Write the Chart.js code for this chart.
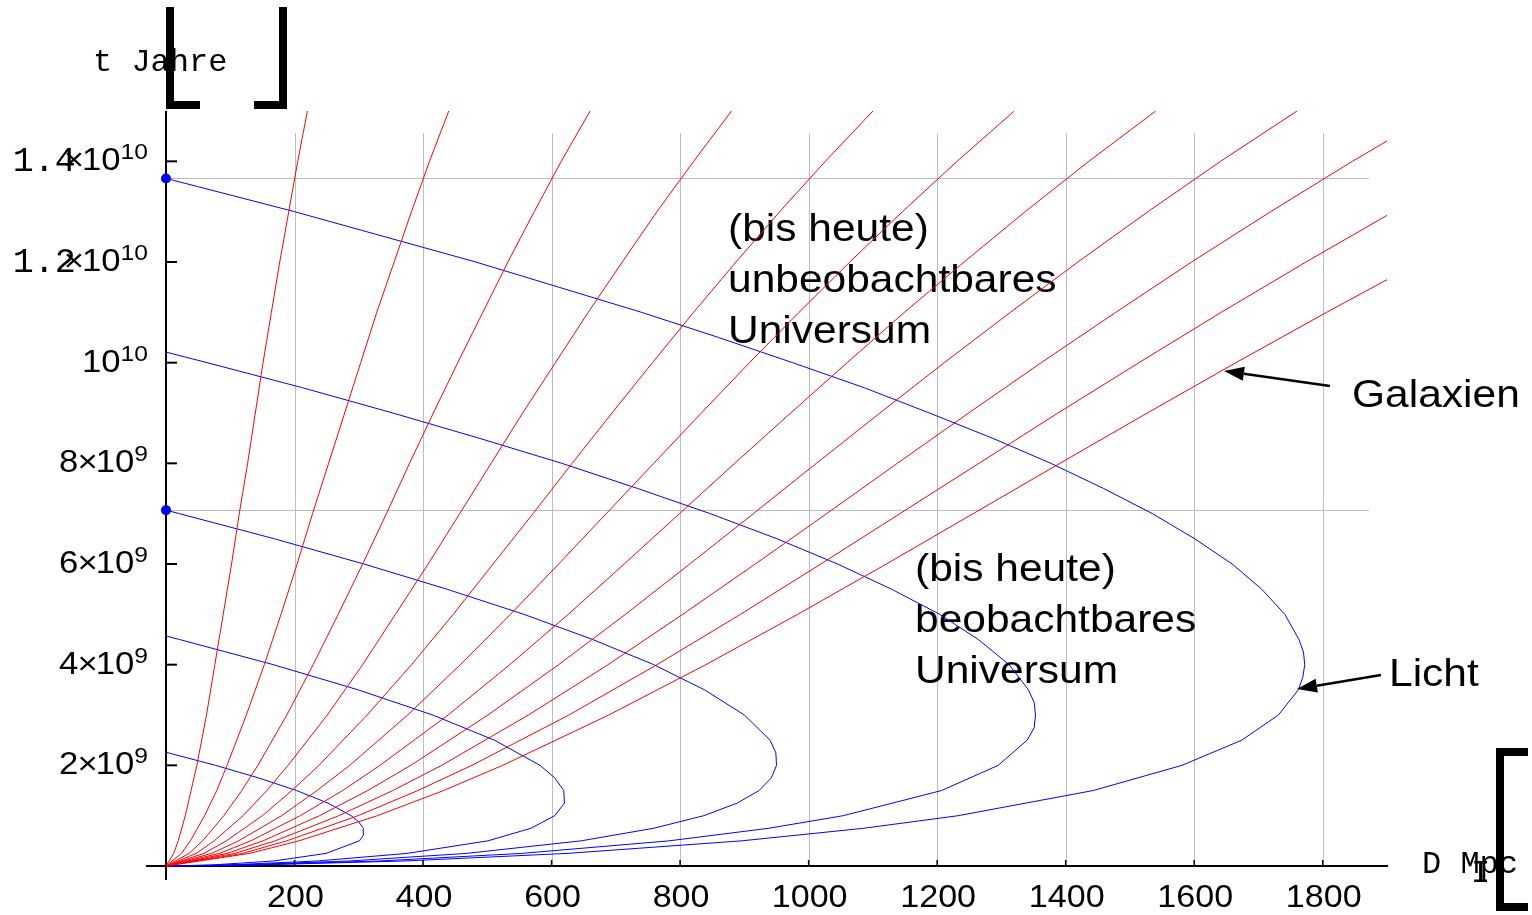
<!DOCTYPE html>
<html>
<head>
<meta charset="utf-8">
<script src="https://cdn.jsdelivr.net/npm/chart.js@4.4.1/dist/chart.umd.min.js"></script>
<style>
  html, body { margin: 0; padding: 0; background: #fff; }
  canvas { display: block; }
</style>
</head>
<body>
<canvas id="myChart" width="1532" height="915"></canvas>
<script>
// time in 10^9 years, distance D in Mpc

// galaxy world lines, all sampled at the same times
const galaxyTimes = [0, 0.25, 0.5, 1, 1.5, 2, 3, 4, 5, 6, 7, 8, 9, 10, 11, 12, 13, 14, 15];
const galaxy1  = [0, 12, 19, 30, 39, 48, 63, 76, 89, 102, 114, 127, 139, 151, 164, 177, 191, 205, 220];
const galaxy2  = [0, 24, 38, 60, 79, 95, 125, 153, 179, 204, 228, 253, 278, 303, 328, 355, 382, 410, 440];
const galaxy3  = [0, 36, 57, 90, 118, 143, 188, 229, 268, 306, 343, 379, 416, 454, 493, 532, 573, 615, 660];
const galaxy4  = [0, 47, 75, 120, 157, 190, 251, 306, 357, 408, 457, 506, 555, 606, 657, 710, 764, 821, 880];
const galaxy5  = [0, 59, 94, 150, 196, 238, 313, 382, 447, 509, 571, 632, 694, 757, 821, 887, 955, 1026, 1100];
const galaxy6  = [0, 71, 113, 180, 235, 286, 376, 458, 536, 611, 685, 759, 833, 908, 985, 1064, 1146, 1231, 1320];
const galaxy7  = [0, 83, 132, 209, 275, 333, 439, 535, 626, 713, 799, 885, 972, 1060, 1149, 1242, 1337, 1436, 1540];
const galaxy8  = [0, 95, 151, 239, 314, 381, 501, 611, 715, 815, 914, 1012, 1111, 1211, 1314, 1419, 1528, 1641, 1760];
const galaxy9  = [0, 107, 170, 269, 353, 429, 564, 688, 804, 917, 1028, 1138, 1249, 1362, 1478, 1596, 1719, 1846, 1980];
const galaxy10 = [0, 119, 188, 299, 392, 476, 627, 764, 894, 1019, 1142, 1265, 1388, 1514, 1642, 1774, 1910, 2051, 2200];
const galaxy11 = [0, 130, 207, 329, 432, 524, 689, 840, 983, 1121, 1256, 1391, 1527, 1665, 1806, 1951, 2101, 2257, 2420];

// light (past light cones), one per observer time
const light1Times = [0, 0.02, 0.1, 0.25, 0.5, 0.625, 0.75, 0.875, 1, 1.25, 1.5, 1.75, 2, 2.26];
const light1Dist  = [0, 71, 168, 249, 301, 308, 307, 300, 288, 252, 203, 144, 77, 0];
const light2Times = [0, 0.02, 0.1, 0.25, 0.5, 0.75, 1, 1.25, 1.5, 1.75, 2, 2.5, 3, 3.5, 4, 4.5, 4.57];
const light2Dist  = [0, 94, 236, 375, 501, 568, 605, 620, 619, 605, 582, 511, 415, 299, 167, 21, 0];
const light3Times = [0, 0.02, 0.1, 0.25, 0.5, 0.75, 1, 1.25, 1.5, 1.75, 2, 2.25, 2.5, 3, 3.5, 4, 4.5, 5, 5.5, 6, 6.5, 7, 7.07];
const light3Dist  = [0, 111, 286, 467, 646, 759, 837, 889, 923, 942, 950, 949, 940, 900, 838, 759, 664, 557, 437, 308, 169, 21, 0];
const light4Times = [0, 0.02, 0.1, 0.25, 0.5, 0.75, 1, 1.5, 2, 2.5, 2.75, 3, 3.25, 3.5, 4, 4.5, 5, 5.5, 6, 6.5, 7, 7.5, 8, 8.5, 9, 9.5, 10, 10.21];
const light4Dist  = [0, 127, 333, 553, 783, 938, 1054, 1207, 1295, 1340, 1351, 1353, 1351, 1342, 1312, 1264, 1204, 1129, 1045, 951, 847, 734, 616, 487, 353, 213, 64, 0];
const light5Times = [0, 0.02, 0.1, 0.25, 0.5, 0.75, 1, 1.5, 2, 2.5, 3, 3.5, 3.75, 4, 4.25, 4.5, 5, 5.5, 6, 6.5, 7, 7.5, 8, 8.5, 9, 9.5, 10, 10.5, 11, 11.5, 12, 12.5, 13, 13.5, 13.66];
const light5Dist  = [0, 140, 372, 624, 896, 1086, 1233, 1443, 1581, 1674, 1731, 1762, 1769, 1772, 1770, 1763, 1741, 1705, 1659, 1601, 1535, 1459, 1377, 1286, 1188, 1087, 975, 860, 740, 611, 482, 341, 200, 49, 0];

const markedTimes = [7.07, 13.66];   // blue dots on the t axis, also horizontal grid lines
const xTicks = [200, 400, 600, 800, 1000, 1200, 1400, 1600, 1800];
const yTicks = [2, 4, 6, 8, 10, 12, 14];
const yTickMantissa = ['2', '4', '6', '8', '', '1.2', '1.4'];
const yTickExponent = ['9', '9', '9', '9', '10', '10', '10'];
const gridTop = 14.56;
const gridRight = 1872;

const SANS = '"Liberation Sans", Arial, sans-serif';
const MONO = '"Liberation Mono", "Courier New", monospace';

function wideText(ctx, text, x, y, font, sx, align) {
    ctx.save();
    ctx.font = font;
    ctx.textAlign = 'left';
    ctx.textBaseline = 'alphabetic';
    const w = ctx.measureText(text).width * sx;
    let x0 = x;
    if (align === 'right') x0 = x - w;
    if (align === 'center') x0 = x - w / 2;
    ctx.translate(x0, y);
    ctx.scale(sx, 1);
    ctx.fillText(text, 0, 0);
    ctx.restore();
    return w;
}

function textWidth(ctx, text, font, sx) {
    ctx.save();
    ctx.font = font;
    const w = ctx.measureText(text).width * sx;
    ctx.restore();
    return w;
}

function arrow(ctx, x1, y1, x2, y2) {
    const a = Math.atan2(y2 - y1, x2 - x1);
    const len = 20, half = 7;
    const bx = x2 - len * Math.cos(a), by = y2 - len * Math.sin(a);
    ctx.beginPath();
    ctx.moveTo(x1, y1);
    ctx.lineTo(bx, by);
    ctx.lineWidth = 2.5;
    ctx.strokeStyle = '#000';
    ctx.stroke();
    ctx.beginPath();
    ctx.moveTo(x2, y2);
    ctx.lineTo(bx + half * Math.sin(a), by - half * Math.cos(a));
    ctx.lineTo(bx - half * Math.sin(a), by + half * Math.cos(a));
    ctx.closePath();
    ctx.fillStyle = '#000';
    ctx.fill();
}

const decorations = {
    id: 'decorations',
    beforeDatasetsDraw(chart) {
        const { ctx, scales: { x, y } } = chart;
        const x0 = x.getPixelForValue(0);
        const y0 = y.getPixelForValue(0);
        ctx.save();

        // grid
        ctx.strokeStyle = '#bdbdbd';
        ctx.lineWidth = 1;
        xTicks.forEach(v => {
            const px = Math.round(x.getPixelForValue(v)) + 0.5;
            ctx.beginPath();
            ctx.moveTo(px, y0);
            ctx.lineTo(px, y.getPixelForValue(gridTop));
            ctx.stroke();
        });
        markedTimes.forEach(v => {
            const py = Math.round(y.getPixelForValue(v)) + 0.5;
            ctx.beginPath();
            ctx.moveTo(x0, py);
            ctx.lineTo(x.getPixelForValue(gridRight), py);
            ctx.stroke();
        });

        // axes
        ctx.strokeStyle = '#000';
        ctx.lineWidth = 2;
        ctx.beginPath();
        ctx.moveTo(x0, y.getPixelForValue(15));
        ctx.lineTo(x0, y0 + 14);
        ctx.moveTo(x0 - 20, y0);
        ctx.lineTo(x.getPixelForValue(1900) + 1, y0);
        ctx.stroke();

        // y ticks and labels
        ctx.fillStyle = '#000';
        const sx = 1.12;
        yTicks.forEach((v, i) => {
            const py = y.getPixelForValue(v);
            ctx.beginPath();
            ctx.moveTo(x0, py);
            ctx.lineTo(x0 + 11, py);
            ctx.stroke();
            let right = 148;
            const expFont = `22px ${SANS}`;
            const mainFont = `31px ${SANS}`;
            const ew = textWidth(ctx, yTickExponent[i], expFont, sx);
            right -= ew;
            wideText(ctx, yTickExponent[i], right, py - 2, expFont, sx, 'left');
            right -= textWidth(ctx, '10', mainFont, sx);
            wideText(ctx, '10', right, py + 9, mainFont, sx, 'left');
            const m = yTickMantissa[i];
            if (m) {
                right -= textWidth(ctx, '\u00d7', mainFont, sx) - 2;
                wideText(ctx, '\u00d7', right, py + 9, mainFont, sx, 'left');
                if (m.indexOf('.') >= 0) {
                    wideText(ctx, m, right + 12, py + 10, `35px ${MONO}`, 1, 'right');
                } else {
                    wideText(ctx, m, right + 1, py + 9, mainFont, sx, 'right');
                }
            }
        });

        // x ticks and labels
        ctx.lineWidth = 1.5;
        xTicks.forEach(v => {
            const px = x.getPixelForValue(v);
            ctx.beginPath();
            ctx.moveTo(px, y0);
            ctx.lineTo(px, y0 - 6);
            ctx.stroke();
            wideText(ctx, String(v), px + 1, 907, `31px ${SANS}`, 1.1, 'center');
        });

        // axis titles with the broken unit brackets
        wideText(ctx, 't Jahre', 93, 71, `32px ${MONO}`, 1, 'left');
        wideText(ctx, 'D Mpc', 1422, 873, `32px ${MONO}`, 1, 'left');
        wideText(ctx, 'I', 1471, 882, `32px ${MONO}`, 1, 'left');
        ctx.fillRect(166, 7, 8, 102);
        ctx.fillRect(166, 101, 34, 8);
        ctx.fillRect(279, 7, 8, 102);
        ctx.fillRect(254, 101, 33, 8);
        ctx.fillRect(1496, 748, 8, 163);
        ctx.fillRect(1496, 748, 32, 8);
        ctx.fillRect(1496, 903, 32, 8);

        // annotations
        const af = `39px ${SANS}`;
        const asx = 1.09;
        ['(bis heute)', 'unbeobachtbares', 'Universum'].forEach((s, i) => {
            wideText(ctx, s, 728, 241 + i * 51, af, asx, 'left');
        });
        ['(bis heute)', 'beobachtbares', 'Universum'].forEach((s, i) => {
            wideText(ctx, s, 915, 581 + i * 51, af, asx, 'left');
        });
        wideText(ctx, 'Galaxien', 1352, 407, af, asx, 'left');
        wideText(ctx, 'Licht', 1389, 686, af, asx, 'left');
        ctx.restore();
    },
    afterDatasetsDraw(chart) {
        const { ctx } = chart;
        ctx.save();
        arrow(ctx, 1330, 386, 1224, 371);
        arrow(ctx, 1381, 675, 1297, 689);
        ctx.restore();
    }
};

const galaxies = [galaxy1, galaxy2, galaxy3, galaxy4, galaxy5, galaxy6, galaxy7, galaxy8, galaxy9, galaxy10, galaxy11];
const lights = [
    [light1Times, light1Dist], [light2Times, light2Dist], [light3Times, light3Dist],
    [light4Times, light4Dist], [light5Times, light5Dist]
];

const lineStyle = {
    showLine: true,
    pointRadius: 0,
    borderWidth: 1,
    tension: 0,
    clip: { left: 5, top: 0, right: 0, bottom: 5 }
};

const datasets = [];
galaxies.forEach(d => {
    datasets.push({
        ...lineStyle,
        data: galaxyTimes.map((t, i) => ({ x: d[i], y: t })),
        borderColor: '#ff0000'
    });
});
lights.forEach(([times, dist]) => {
    datasets.push({
        ...lineStyle,
        data: times.map((t, i) => ({ x: dist[i], y: t })),
        borderColor: '#0000ff'
    });
});
datasets.push({
    data: markedTimes.map(t => ({ x: 0, y: t })),
    pointRadius: 5,
    backgroundColor: '#0000ff',
    borderColor: '#0000ff',
    borderWidth: 0,
    showLine: false,
    clip: false
});

new Chart(document.getElementById('myChart'), {
    type: 'scatter',
    data: { datasets: datasets },
    options: {
        responsive: false,
        animation: false,
        events: [],
        layout: { padding: { left: 166, right: 145, top: 111, bottom: 49 } },
        scales: {
            x: { type: 'linear', min: 0, max: 1900, display: false },
            y: { type: 'linear', min: 0, max: 15, display: false }
        },
        plugins: {
            legend: { display: false },
            tooltip: { enabled: false }
        }
    },
    plugins: [decorations]
});
</script>
</body>
</html>
